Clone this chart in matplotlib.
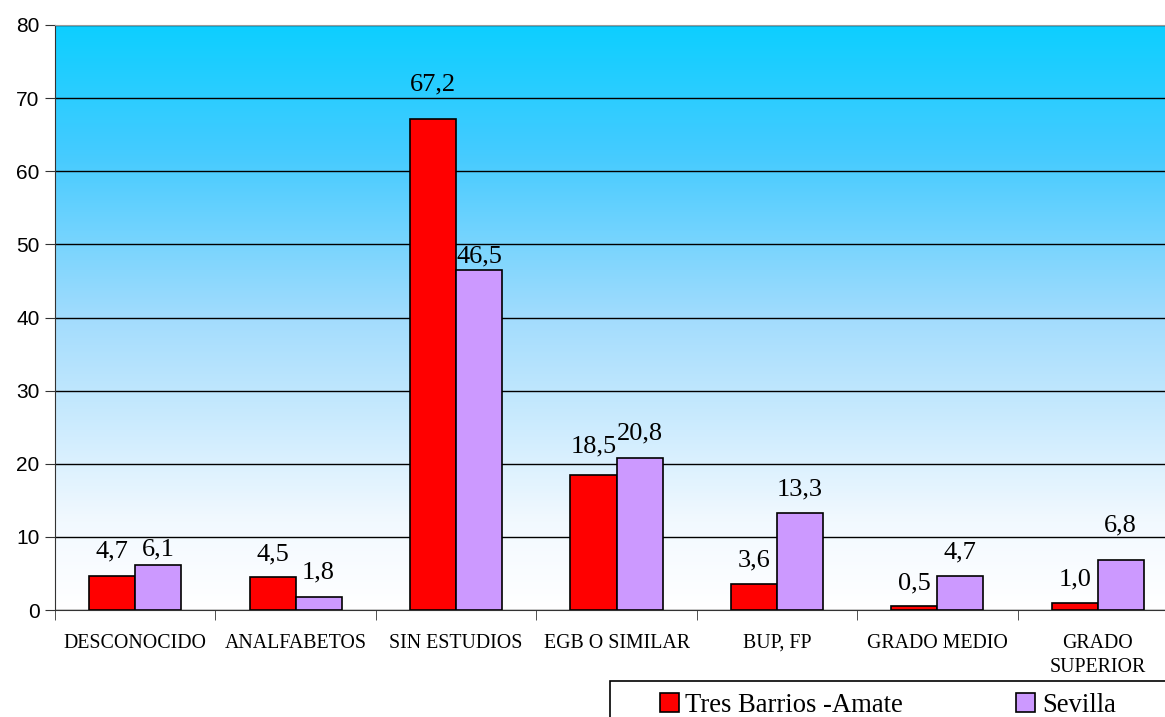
import matplotlib.pyplot as plt
import numpy as np
from matplotlib.colors import LinearSegmentedColormap
from matplotlib.patches import Rectangle

categories = ["DESCONOCIDO", "ANALFABETOS", "SIN ESTUDIOS", "EGB O SIMILAR",
              "BUP, FP", "GRADO MEDIO", "GRADO\nSUPERIOR"]
amate = [4.7, 4.5, 67.2, 18.5, 3.6, 0.5, 1.0]
sevilla = [6.1, 1.8, 46.5, 20.8, 13.3, 4.7, 6.8]
series_names = ["Tres Barrios -Amate", "Sevilla"]

# label nudges (pixels from bar top to text baseline), as placed in the original
amate_gap = [18, 17, 28, 22, 17, 17, 17]
sevilla_gap = [10, 18, 8, 18, 17, 17, 29]

SERIF = ["Liberation Serif", "DejaVu Serif"]
SANS = ["Liberation Sans", "DejaVu Sans"]


def fmt(v):
    return f"{v:.1f}".replace(".", ",")


def main() -> None:
    W, H = 1165, 717
    fig = plt.figure(figsize=(W / 100, H / 100), dpi=100)
    ax = fig.add_axes([55 / W, 1 - 610 / H, 1123 / W, 585 / H])

    n = len(categories)
    x = np.arange(n)
    w = 0.287

    cmap = LinearSegmentedColormap.from_list(
        "bg", [(0, "#ffffff"), (0.15, "#f2f9ff"), (0.5, "#a2dcfd"),
               (0.78, "#45cbff"), (1, "#0dcfff")])
    grad = np.linspace(0, 1, 256).reshape(-1, 1)
    ax.imshow(grad, cmap=cmap, aspect="auto", origin="lower",
              extent=[-0.5, n - 0.5, 0, 80], zorder=0)

    b1 = ax.bar(x - w / 2, amate, w, color="#ff0000", edgecolor="black",
                linewidth=1.2, zorder=3, label=series_names[0])
    b2 = ax.bar(x + w / 2, sevilla, w, color="#cc99ff", edgecolor="black",
                linewidth=1.2, zorder=3, label=series_names[1])

    for xs, vals, gaps in ((x - w / 2, amate, amate_gap),
                           (x + w / 2, sevilla, sevilla_gap)):
        for xi, v, g in zip(xs, vals, gaps):
            ax.annotate(fmt(v), (xi, v), xytext=(0, g), textcoords="offset pixels",
                        ha="center", va="baseline", fontsize=19,
                        family=SERIF, zorder=4)

    ax.set_xlim(-0.5, n - 0.5)
    ax.set_ylim(0, 80)
    ax.set_yticks(range(0, 81, 10))
    ax.yaxis.grid(True, color="black", linewidth=1.0)
    for gl in ax.get_ygridlines():
        gl.set_zorder(1)

    ax.set_xticks(np.arange(n + 1) - 0.5, minor=True)
    ax.set_xticks(x)
    ax.set_xticklabels(categories, fontsize=14.3, family=SERIF, linespacing=1.35)
    ax.tick_params(axis="x", which="major", length=0, pad=17)
    ax.tick_params(axis="x", which="minor", length=7, color="#333333")
    ax.tick_params(axis="y", length=7, labelsize=15, color="#333333", pad=4)
    for lab in ax.get_yticklabels():
        lab.set_family(SANS)

    ax.spines["right"].set_visible(False)
    ax.spines["top"].set_color("#999999")
    ax.spines["left"].set_color("#333333")
    ax.spines["bottom"].set_color("#333333")

    # legend frame runs off the bottom/right edge of the picture
    fig.patches.append(Rectangle((610 / W, -0.05), 0.6, 0.05 + 1 - 681 / H,
                                 transform=fig.transFigure, fill=False,
                                 edgecolor="black", linewidth=1.2))
    fig.legend(handles=[b1, b2], loc="upper left",
               bbox_to_anchor=(660 / W, 1 - 693 / H), ncol=2,
               prop={"family": SERIF, "size": 19.2}, frameon=False,
               handlelength=0.7, handleheight=0.7, handletextpad=0.25,
               columnspacing=4.25, borderpad=0, borderaxespad=0)

    fig.savefig("out.png", dpi=100)


if __name__ == "__main__":
    main()
